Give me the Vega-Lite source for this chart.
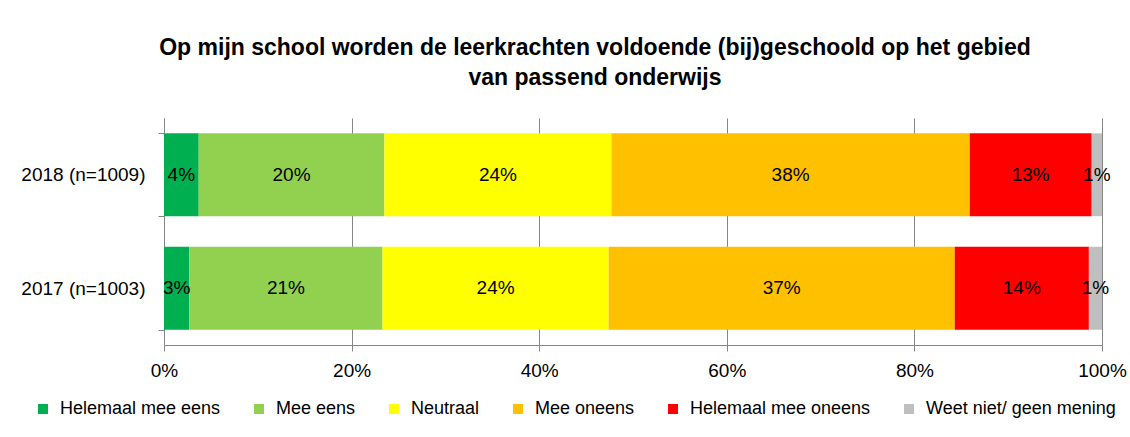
{
  "$schema": "https://vega.github.io/schema/vega-lite/v6.json",
  "width": 938,
  "height": 227,
  "autosize": {"type": "none"},
  "padding": {"left": 164, "top": 118, "right": 28, "bottom": 92},
  "background": "white",
  "title": {
    "text": ["Op mijn school worden de leerkrachten voldoende (bij)geschoold op het gebied", "van passend onderwijs"],
    "fontSize": 23,
    "fontWeight": "bold",
    "font": "Liberation Sans",
    "lineHeight": 30,
    "offset": 19,
    "dx": -38,
    "color": "black"
  },
  "data": {
    "values": [
      {"jaar": "2018 (n=1009)", "cat": "Helemaal mee eens", "o": 1, "v": 0.037},
      {"jaar": "2018 (n=1009)", "cat": "Mee eens", "o": 2, "v": 0.198},
      {"jaar": "2018 (n=1009)", "cat": "Neutraal", "o": 3, "v": 0.242},
      {"jaar": "2018 (n=1009)", "cat": "Mee oneens", "o": 4, "v": 0.382},
      {"jaar": "2018 (n=1009)", "cat": "Helemaal mee oneens", "o": 5, "v": 0.130},
      {"jaar": "2018 (n=1009)", "cat": "Weet niet/ geen mening", "o": 6, "v": 0.011},
      {"jaar": "2017 (n=1003)", "cat": "Helemaal mee eens", "o": 1, "v": 0.027},
      {"jaar": "2017 (n=1003)", "cat": "Mee eens", "o": 2, "v": 0.206},
      {"jaar": "2017 (n=1003)", "cat": "Neutraal", "o": 3, "v": 0.241},
      {"jaar": "2017 (n=1003)", "cat": "Mee oneens", "o": 4, "v": 0.369},
      {"jaar": "2017 (n=1003)", "cat": "Helemaal mee oneens", "o": 5, "v": 0.143},
      {"jaar": "2017 (n=1003)", "cat": "Weet niet/ geen mening", "o": 6, "v": 0.014}
    ]
  },
  "transform": [
    {"stack": "v", "groupby": ["jaar"], "sort": [{"field": "o", "order": "ascending"}], "as": ["v0", "v1"]}
  ],
  "encoding": {
    "y": {
      "field": "jaar",
      "type": "nominal",
      "sort": ["2018 (n=1009)", "2017 (n=1003)"],
      "scale": {"paddingInner": 0.27, "paddingOuter": 0.135},
      "axis": {
        "title": null,
        "labelFontSize": 19,
        "labelColor": "black",
        "ticks": true,
        "tickBand": "extent",
        "tickSize": 6,
        "tickColor": "#868686",
        "labelPadding": 13,
        "domainColor": "#868686"
      }
    }
  },
  "layer": [
    {
      "mark": {"type": "bar"},
      "encoding": {
        "x": {
          "field": "v0",
          "type": "quantitative",
          "scale": {"domain": [0, 1], "nice": false},
          "axis": {
            "values": [0, 0.2, 0.4, 0.6, 0.8, 1],
            "format": ".0%",
            "title": null,
            "grid": true,
            "gridColor": "#868686",
            "domainColor": "#868686",
            "tickColor": "#868686",
            "tickSize": 6,
            "labelFontSize": 19,
            "labelColor": "black",
            "labelPadding": 10,
            "labelFlush": false
          }
        },
        "x2": {"field": "v1"},
        "color": {
          "field": "cat",
          "type": "nominal",
          "scale": {
            "domain": ["Helemaal mee eens", "Mee eens", "Neutraal", "Mee oneens", "Helemaal mee oneens", "Weet niet/ geen mening"],
            "range": ["#00B050", "#92D050", "#FFFF00", "#FFC000", "#FF0000", "#BFBFBF"]
          },
          "legend": {
            "orient": "none",
            "legendX": -130,
            "legendY": 282,
            "direction": "horizontal",
            "title": null,
            "symbolType": "square",
            "symbolSize": 100,
            "symbolStrokeWidth": 0,
            "labelFontSize": 18,
            "labelLimit": 400,
            "labelColor": "black",
            "columnPadding": 29,
            "labelOffset": 8
          }
        }
      }
    },
    {
      "transform": [
        {"fold": ["v0", "v1"], "as": ["k", "pos"]},
        {"aggregate": [{"op": "mean", "field": "pos", "as": "mid"}], "groupby": ["jaar", "cat", "v"]}
      ],
      "mark": {"type": "text", "fontSize": 19, "color": "black"},
      "encoding": {
        "x": {"field": "mid", "type": "quantitative"},
        "text": {"field": "v", "type": "quantitative", "format": ".0%"}
      }
    }
  ],
  "config": {"view": {"stroke": null}, "font": "Liberation Sans"}
}
